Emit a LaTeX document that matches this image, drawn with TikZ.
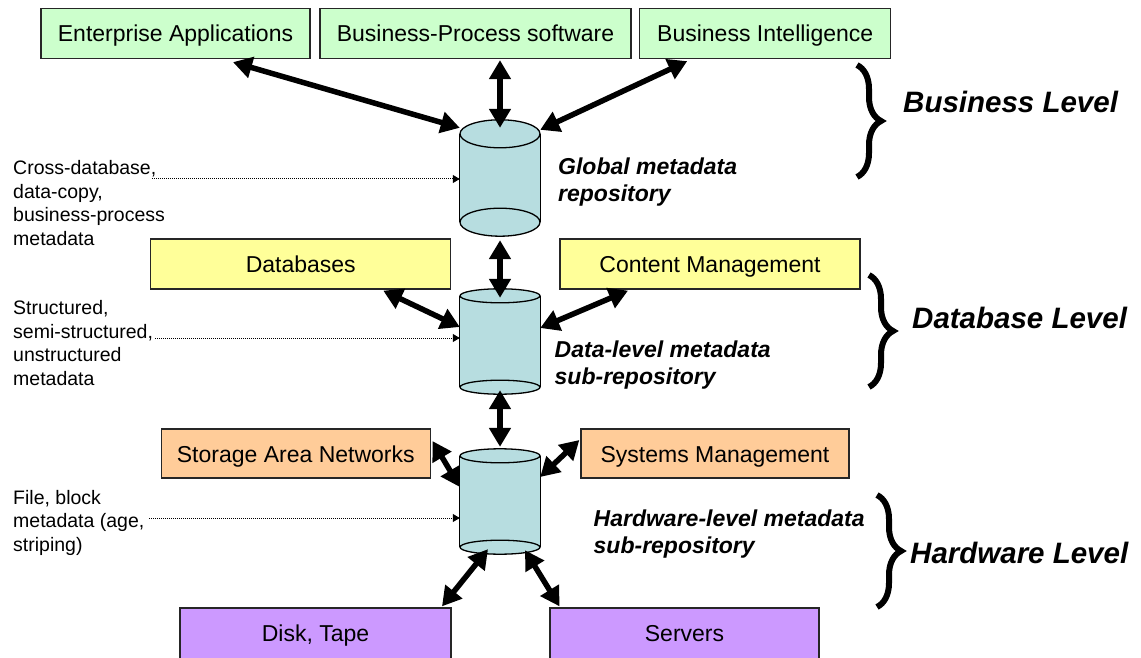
\documentclass[tikz,border=0pt]{standalone}
\usepackage{fontspec}
\setmainfont{Liberation Sans}
\usepackage{tikz}
\usetikzlibrary{arrows.meta, calc, decorations.pathreplacing}
\definecolor{bizgreen}{RGB}{204,255,204}
\definecolor{dbyellow}{RGB}{255,255,153}
\definecolor{hworange}{RGB}{255,204,153}
\definecolor{devpurple}{RGB}{204,153,255}
\definecolor{repoteal}{RGB}{183,221,224}

% 圆柱体: #1 节点名, #2 椭圆半高
\newcommand\repodraw[2]{%
  \fill[repoteal] ($(#1.north west)+(0,#2)$) rectangle ($(#1.south east)+(0,-#2)$);
  \draw[line width=1.3pt] ($(#1.north west)+(0,#2)$) -- ($(#1.south west)+(0,-#2)$)
    ($(#1.north east)+(0,#2)$) -- ($(#1.south east)+(0,-#2)$);
  \draw[line width=1.3pt, fill=repoteal] ($(#1.north)+(0,#2)$) ellipse [x radius=40pt, y radius=#2pt];
  \draw[line width=1.3pt, fill=repoteal] ($(#1.south)+(0,-#2)$) ellipse [x radius=40pt, y radius=#2pt];
}

\begin{document}
\begin{tikzpicture}[x=1pt, y=-1pt,
    box/.style={draw=black!85, line width=1.3pt, minimum height=50pt, inner sep=0pt,
      text height=22pt, text depth=5pt, font=\fontsize{23}{27}\selectfont},
    repo/.style={minimum width=80pt, inner sep=0pt},
    link/.style={line width=5.5pt, {Triangle[length=19pt,width=21pt]}-{Triangle[length=19pt,width=21pt]}},
    note/.style={anchor=base west, align=left, inner sep=0pt, font=\fontsize{19.5}{23.5}\selectfont},
    noteline/.style={dash pattern=on 1pt off 1pt, line width=1pt, -{Triangle[length=7pt,width=8pt]}},
    repolabel/.style={anchor=base west, align=left, inner sep=0pt,
      font=\fontsize{23}{27}\selectfont\bfseries\itshape},
    level/.style={anchor=base west, inner sep=0pt, font=\fontsize{29.5}{34}\selectfont\bfseries\itshape},
    levelbrace/.style={decorate, decoration={brace, amplitude=24pt}, line width=6pt}]

    \useasboundingbox (0,0) rectangle (1141,658);
    \clip (0,0) rectangle (1141,658);

    % 业务层
    \node[box, fill=bizgreen, minimum width=269pt] (ea) at (175.5,33.5) {Enterprise Applications};
    \node[box, fill=bizgreen, minimum width=311pt] (bp) at (475.5,33.5) {Business-Process software};
    \node[box, fill=bizgreen, minimum width=251pt] (bi) at (765.25,33.5) {Business Intelligence};

    % 数据库层
    \node[box, fill=dbyellow, minimum width=300pt] (db) at (300.75,264) {Databases};
    \node[box, fill=dbyellow, minimum width=300pt] (cm) at (710,264) {Content Management};

    % 硬件层
    \node[box, fill=hworange, minimum width=269pt, minimum height=49pt] (san) at (295.75,453.5) {Storage Area Networks};
    \node[box, fill=hworange, minimum width=268pt, minimum height=49pt] (sm) at (715,453.5) {Systems Management};
    \node[box, fill=devpurple, minimum width=271pt, minimum height=60pt] (disk) at (315.5,638) {};
    \node[box, fill=devpurple, minimum width=269pt, minimum height=60pt] (srv) at (684.5,638) {};
    \node[box, draw=none, fill=none] (disklbl) at (315.5,633) {Disk, Tape};
    \node[box, draw=none, fill=none] (srvlbl) at (684.5,633) {Servers};

    % 元数据库
    \node[repo, minimum height=116pt] (glob) at (500,178) {};
    \node[repo, minimum height=105pt] (data) at (500,341.5) {};
    \node[repo, minimum height=105pt] (hw) at (500,501.5) {};
    \repodraw{glob}{14}
    \repodraw{data}{7}
    \repodraw{hw}{7}

    % 双向箭头
    \draw[link] ([xshift=57.5pt, yshift=-3pt]ea.south) -- ([yshift=-8pt]glob.north west);
    \draw[link] ([yshift=-1pt]glob.north |- bp.south) -- ([yshift=-8pt]glob.north);
    \draw[link] ([xshift=-78pt, yshift=-2pt]bi.south) -- ([yshift=-10pt]glob.north east);
    \draw[link] ([yshift=-4pt]glob.south) -- ([yshift=-9pt]data.north);
    \draw[link] ([xshift=82.5pt, yshift=-1pt]db.south) -- ([yshift=14.5pt]data.west);
    \draw[link] ([xshift=-82pt, yshift=-1pt]cm.south) -- ([yshift=13.5pt]data.east);
    \draw[link] ([yshift=4pt]data.south) -- ([yshift=2pt]hw.north);
    \draw[link] ([xshift=1.5pt, yshift=12.5pt]san.east) -- ([yshift=14.5pt]hw.west);
    \draw[link] ([xshift=-1pt, yshift=13.5pt]sm.west) -- ([yshift=24.5pt]hw.east);
    \draw[link] ([xshift=-12pt, yshift=5pt]hw.south) -- ([xshift=126.5pt, yshift=1pt]disk.north);
    \draw[link] ([xshift=25pt, yshift=4pt]hw.south) -- ([xshift=-125pt, yshift=1pt]srv.north);

    % 左侧注解 (基线取最后一行)
    \node[note] (n1) at (13,245) {Cross-database,\\data-copy,\\business-process\\metadata};
    \node[note] (n2) at (13,385) {Structured,\\semi-structured,\\unstructured\\metadata};
    \node[note] (n3) at (13,551) {File, block\\metadata (age,\\striping)};
    \coordinate (d1) at (152,179);
    \coordinate (d2) at (155,338);
    \coordinate (d3) at (149,518);
    \draw[noteline] (d1) -- (d1 -| glob.west);
    \draw[noteline] (d2) -- (d2 -| data.west);
    \draw[noteline] (d3) -- (d3 -| hw.west);

    % 元数据库标签
    \node[repolabel] (l1) at (558,201) {Global metadata\\repository};
    \node[repolabel] (l2) at (554.5,384) {Data-level metadata\\sub-repository};
    \node[repolabel] (l3) at (593.5,553) {Hardware-level metadata\\sub-repository};

    % 层级括号
    \draw[levelbrace] (857,65) -- (857,177);
    \draw[levelbrace] (869,275) -- (869,387);
    \draw[levelbrace] (877,495) -- (877,607);
    \node[level] (biz) at (903,113) {Business Level};
    \node[level] (dbl) at (912,328) {Database Level};
    \node[level] (hwl) at (910,563) {Hardware Level};
\end{tikzpicture}
\end{document}
